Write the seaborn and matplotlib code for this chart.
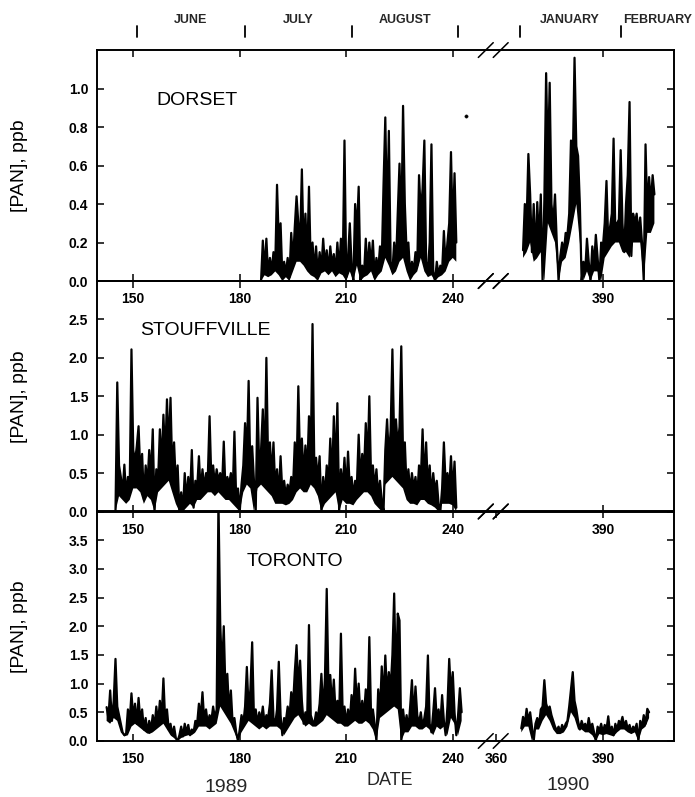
import numpy as np
import pandas as pd
import matplotlib
matplotlib.use('Agg')
import matplotlib.pyplot as plt
import seaborn as sns

# PAN mixing ratios (ppb), every half day,
# plus the lower edge of the dense trace once a day ("floor")
dorset_1989_start = 186.0
dorset_1989 = [0.00, 0.21, 0.05, 0.22, 0.03, 0.12, 0.05, 0.15, 0.08, 0.50,
               0.20, 0.30, 0.02, 0.10, 0.04, 0.12, 0.02, 0.25, 0.10, 0.28,
               0.44, 0.30, 0.20, 0.58, 0.15, 0.35, 0.10, 0.49, 0.08, 0.20,
               0.05, 0.18, 0.03, 0.15, 0.06, 0.22, 0.08, 0.16, 0.05, 0.18,
               0.08, 0.14, 0.04, 0.20, 0.06, 0.22, 0.05, 0.73, 0.02, 0.12,
               0.30, 0.08, 0.00, 0.40, 0.25, 0.49, 0.00, 0.08, 0.03, 0.22,
               0.05, 0.20, 0.08, 0.21, 0.02, 0.12, 0.05, 0.18, 0.10, 0.50,
               0.85, 0.30, 0.78, 0.10, 0.05, 0.20, 0.08, 0.35, 0.61, 0.25,
               0.91, 0.40, 0.15, 0.20, 0.03, 0.10, 0.05, 0.15, 0.08, 0.55,
               0.35, 0.48, 0.73, 0.10, 0.05, 0.20, 0.71, 0.05, 0.00, 0.10,
               0.03, 0.08, 0.05, 0.26, 0.08, 0.20, 0.30, 0.67, 0.25, 0.56,
               0.20]
dorset_1989_floor = [0.00, 0.03, 0.02, 0.03, 0.05, 0.03, 0.00, 0.02, 0.00, 0.05,
                     0.10, 0.10, 0.08, 0.05, 0.03, 0.02, 0.00, 0.04, 0.05, 0.03,
                     0.05, 0.02, 0.04, 0.03, 0.00, 0.05, 0.00, 0.08, 0.00, 0.02,
                     0.03, 0.05, 0.00, 0.03, 0.05, 0.12, 0.08, 0.03, 0.05, 0.10,
                     0.12, 0.05, 0.00, 0.03, 0.05, 0.12, 0.05, 0.02, 0.03, 0.00,
                     0.02, 0.03, 0.05, 0.10, 0.12, 0.10]
dorset_1990_start = 367.5
dorset_1990 = [0.16, 0.40, 0.30, 0.66, 0.45, 0.15, 0.40, 0.12, 0.41, 0.20,
               0.45, 0.00, 0.42, 1.08, 0.60, 1.03, 0.40, 0.30, 0.45, 0.20,
               0.00, 0.13, 0.20, 0.15, 0.25, 0.24, 0.35, 0.73, 0.60, 1.16,
               0.70, 0.65, 0.40, 0.00, 0.10, 0.05, 0.22, 0.10, 0.00, 0.18,
               0.08, 0.24, 0.12, 0.00, 0.20, 0.18, 0.30, 0.52, 0.20, 0.28,
               0.35, 0.74, 0.25, 0.30, 0.32, 0.68, 0.30, 0.15, 0.40, 0.55,
               0.93, 0.13, 0.35, 0.30, 0.35, 0.25, 0.33, 0.20, 0.00, 0.71,
               0.35, 0.54, 0.40, 0.55, 0.45]
dorset_1990_floor = [0.12, 0.15, 0.20, 0.10, 0.12, 0.15, 0.00, 0.30, 0.25, 0.20,
                     0.00, 0.10, 0.12, 0.20, 0.30, 0.40, 0.20, 0.00, 0.05, 0.00,
                     0.05, 0.05, 0.00, 0.12, 0.15, 0.18, 0.20, 0.20, 0.15, 0.15,
                     0.12, 0.20, 0.20, 0.20, 0.00, 0.25, 0.25, 0.30]
dorset_dot_day = [243.7]
dorset_dot_pan = [0.855]

stouffville_1989_start = 145.0
stouffville_1989 = [0.00, 1.68, 0.60, 0.45, 0.25, 0.61, 0.20, 0.45, 0.30, 2.11,
                    0.80, 0.65, 0.85, 1.11, 0.50, 0.75, 0.16, 0.60, 0.35, 0.80,
                    0.45, 1.07, 0.00, 0.55, 0.40, 1.07, 0.60, 1.26, 0.70, 1.46,
                    0.80, 1.48, 0.50, 0.90, 0.35, 0.60, 0.00, 0.25, 0.00, 0.50,
                    0.15, 0.45, 0.20, 0.80, 0.05, 0.40, 0.30, 0.72, 0.25, 0.55,
                    0.30, 0.50, 0.45, 1.24, 0.40, 0.60, 0.35, 0.55, 0.40, 0.50,
                    0.30, 0.91, 0.25, 0.45, 0.35, 0.50, 0.20, 1.04, 0.15, 0.30,
                    0.00, 0.35, 0.60, 1.15, 0.70, 1.70, 0.50, 0.85, 0.40, 0.00,
                    1.48, 0.55, 0.80, 1.33, 0.50, 2.00, 0.60, 0.90, 0.45, 0.90,
                    0.30, 0.55, 0.20, 0.72, 0.25, 0.40, 0.20, 0.35, 0.25, 0.45,
                    0.30, 0.90, 0.50, 1.63, 0.60, 0.95, 0.45, 0.86, 0.50, 1.24,
                    0.70, 2.44, 0.60, 0.70, 0.40, 0.72, 0.00, 0.45, 0.20, 0.60,
                    0.35, 0.95, 0.40, 1.24, 0.50, 1.41, 0.00, 0.55, 0.30, 0.70,
                    0.25, 0.78, 0.30, 0.45, 0.20, 0.40, 0.35, 1.00, 0.40, 0.75,
                    0.50, 1.15, 0.60, 1.50, 0.40, 0.60, 0.30, 0.55, 0.20, 0.40,
                    0.15, 0.00, 0.80, 1.20, 0.70, 1.05, 2.11, 0.90, 1.20, 0.85,
                    1.10, 2.15, 0.70, 0.90, 0.30, 0.55, 0.25, 0.50, 0.30, 0.45,
                    0.20, 0.60, 0.40, 1.07, 0.35, 0.90, 0.30, 0.60, 0.20, 0.50,
                    0.25, 0.40, 0.10, 0.00, 0.30, 0.90, 0.35, 0.50, 0.30, 0.72,
                    0.25, 0.65, 0.05]
stouffville_1989_floor = [0.00, 0.20, 0.15, 0.10, 0.15, 0.30, 0.30, 0.25, 0.10, 0.20,
                          0.15, 0.00, 0.25, 0.30, 0.35, 0.40, 0.25, 0.10, 0.00, 0.00,
                          0.05, 0.10, 0.05, 0.15, 0.15, 0.20, 0.25, 0.25, 0.20, 0.25,
                          0.20, 0.15, 0.15, 0.10, 0.05, 0.00, 0.25, 0.35, 0.30, 0.00,
                          0.30, 0.35, 0.30, 0.25, 0.20, 0.10, 0.10, 0.10, 0.08, 0.10,
                          0.15, 0.25, 0.30, 0.25, 0.25, 0.35, 0.30, 0.20, 0.00, 0.10,
                          0.15, 0.20, 0.25, 0.00, 0.15, 0.10, 0.10, 0.08, 0.15, 0.20,
                          0.25, 0.25, 0.20, 0.10, 0.05, 0.00, 0.35, 0.40, 0.45, 0.40,
                          0.35, 0.30, 0.15, 0.10, 0.10, 0.08, 0.15, 0.15, 0.10, 0.08,
                          0.05, 0.00, 0.10, 0.10, 0.10, 0.08, 0.00]

toronto_1989_start = 142.5
toronto_1989 = [0.59, 0.40, 0.88, 0.35, 0.70, 1.43, 0.60, 0.45, 0.30, 0.15,
                0.10, 0.13, 0.55, 0.35, 0.83, 0.40, 0.65, 0.30, 0.75, 0.35,
                0.55, 0.20, 0.40, 0.15, 0.35, 0.20, 0.45, 0.25, 0.60, 0.30,
                0.70, 0.40, 1.09, 0.35, 0.55, 0.20, 0.30, 0.10, 0.25, 0.05,
                0.00, 0.10, 0.25, 0.08, 0.30, 0.15, 0.28, 0.10, 0.20, 0.15,
                0.35, 0.30, 0.65, 0.40, 0.85, 0.35, 0.55, 0.30, 0.45, 0.35,
                0.60, 0.40, 0.55, 4.20, 2.05, 1.20, 2.00, 0.80, 1.17, 0.50,
                0.88, 0.30, 0.40, 0.15, 0.00, 0.20, 0.45, 0.30, 0.60, 1.29,
                0.55, 0.90, 1.72, 0.40, 0.55, 0.30, 0.50, 0.35, 0.60, 0.30,
                0.45, 0.40, 0.65, 1.23, 0.40, 0.30, 0.55, 1.38, 0.45, 0.10,
                0.40, 0.35, 0.60, 0.40, 0.85, 0.60, 1.20, 1.67, 0.90, 1.40,
                0.70, 0.30, 0.50, 0.40, 2.02, 0.45, 0.35, 0.30, 0.50, 0.40,
                0.65, 1.17, 0.50, 1.10, 2.65, 0.90, 1.15, 0.60, 1.07, 0.50,
                0.70, 0.40, 1.87, 0.45, 0.60, 0.30, 0.55, 0.35, 0.80, 0.50,
                1.26, 0.60, 1.00, 0.40, 0.70, 0.45, 0.90, 0.50, 1.81, 0.40,
                0.55, 0.30, 0.00, 0.90, 0.50, 1.30, 0.70, 1.49, 0.80, 1.20,
                0.90, 1.50, 2.57, 1.00, 2.22, 2.10, 0.00, 0.55, 0.25, 0.45,
                0.20, 0.60, 1.06, 0.40, 0.95, 0.45, 0.30, 0.50, 0.25, 0.40,
                0.60, 1.49, 0.30, 0.15, 0.50, 0.92, 0.35, 0.55, 0.30, 0.80,
                0.35, 0.10, 0.60, 1.43, 0.80, 1.20, 0.50, 0.10, 0.45, 0.92,
                0.50]
toronto_1989_floor = [0.35, 0.30, 0.40, 0.35, 0.15, 0.08, 0.10, 0.25, 0.30, 0.25,
                      0.20, 0.15, 0.12, 0.15, 0.20, 0.25, 0.30, 0.20, 0.10, 0.05,
                      0.00, 0.05, 0.08, 0.10, 0.10, 0.15, 0.25, 0.25, 0.25, 0.20,
                      0.25, 0.30, 0.60, 0.50, 0.40, 0.30, 0.15, 0.00, 0.15, 0.25,
                      0.35, 0.30, 0.25, 0.20, 0.25, 0.20, 0.25, 0.25, 0.25, 0.20,
                      0.10, 0.20, 0.30, 0.40, 0.45, 0.35, 0.25, 0.30, 0.25, 0.25,
                      0.30, 0.35, 0.45, 0.40, 0.35, 0.30, 0.30, 0.25, 0.25, 0.30,
                      0.35, 0.30, 0.30, 0.35, 0.30, 0.20, 0.00, 0.40, 0.45, 0.50,
                      0.55, 0.60, 0.55, 0.00, 0.15, 0.15, 0.25, 0.25, 0.20, 0.20,
                      0.25, 0.20, 0.10, 0.25, 0.20, 0.25, 0.10, 0.40, 0.30, 0.10,
                      0.35]
toronto_1990_start = 367.0
toronto_1990 = [0.22, 0.42, 0.30, 0.56, 0.35, 0.50, 0.25, 0.00, 0.30, 0.40,
                0.28, 0.55, 0.60, 1.06, 0.65, 0.55, 0.60, 0.45, 0.35, 0.25,
                0.18, 0.25, 0.15, 0.28, 0.20, 0.30, 0.35, 0.60, 0.90, 1.20,
                0.70, 0.55, 0.35, 0.20, 0.35, 0.25, 0.30, 0.20, 0.40, 0.22,
                0.30, 0.15, 0.00, 0.25, 0.18, 0.30, 0.15, 0.28, 0.20, 0.43,
                0.15, 0.25, 0.10, 0.30, 0.20, 0.35, 0.30, 0.42, 0.25, 0.35,
                0.20, 0.28, 0.15, 0.25, 0.20, 0.30, 0.00, 0.35, 0.25, 0.45,
                0.30, 0.56, 0.50]
toronto_1990_floor = [0.15, 0.25, 0.25, 0.00, 0.20, 0.20, 0.35, 0.45, 0.35, 0.20,
                      0.12, 0.12, 0.15, 0.25, 0.50, 0.40, 0.20, 0.20, 0.15, 0.15,
                      0.10, 0.00, 0.12, 0.10, 0.12, 0.10, 0.08, 0.15, 0.20, 0.20,
                      0.15, 0.12, 0.15, 0.00, 0.20, 0.25, 0.40]

month_names = ['JUNE', 'JULY', 'AUGUST', '', 'JANUARY', 'FEBRUARY']
month_starts = [151.0, 181.5, 211.5, 241.5, 366.5, 395.0]
day_ticks = [150, 180, 210, 240, 390]
day_ticks_bottom = [150, 180, 210, 240, 360, 390]

GAP = 107.7  # days cut out of the axis between summer 1989 and winter 1990


def squeeze(day):
    day = np.asarray(day, dtype=float)
    return np.where(day > 300, day - GAP, day)


def series(start, vals):
    days = start + 0.5 * np.arange(len(vals))
    return pd.DataFrame({'day': squeeze(days), 'pan': vals})


def draw_trace(ax, start, vals, floor):
    df = series(start, vals)
    fx = squeeze(start + np.arange(len(floor)))
    # dense hourly record: black band between the daily floor and the trace
    ax.fill(np.concatenate([df['day'].values, fx[::-1]]),
            np.concatenate([df['pan'].values, np.asarray(floor)[::-1]]),
            color='black', lw=0)
    sns.lineplot(data=df, x='day', y='pan', ax=ax, color='black', lw=1.6,
                 estimator=None, sort=False)


sns.set_theme(style='ticks')
plt.rcParams['font.family'] = ['Liberation Sans', 'DejaVu Sans']

fig = plt.figure(figsize=(6.95, 7.97), dpi=100)

panels = [
    dict(name='DORSET', rect=[0.1391, 0.6474, 0.8311, 0.2898], ymax=1.2,
         yticks=[0.0, 0.2, 0.4, 0.6, 0.8, 1.0], name_xy=(0.104, 0.78),
         segs=[(dorset_1989_start, dorset_1989, dorset_1989_floor),
               (dorset_1990_start, dorset_1990, dorset_1990_floor)]),
    dict(name='STOUFFVILLE', rect=[0.1391, 0.3582, 0.8311, 0.2892], ymax=3.0,
         yticks=[0.0, 0.5, 1.0, 1.5, 2.0, 2.5], name_xy=(0.075, 0.787),
         segs=[(stouffville_1989_start, stouffville_1989, stouffville_1989_floor)]),
    dict(name='TORONTO', rect=[0.1391, 0.0703, 0.8311, 0.2880], ymax=4.0,
         yticks=[0.0, 0.5, 1.0, 1.5, 2.0, 2.5, 3.0, 3.5], name_xy=(0.26, 0.78),
         segs=[(toronto_1989_start, toronto_1989, toronto_1989_floor),
               (toronto_1990_start, toronto_1990, toronto_1990_floor)]),
]

axes = []
for i, p in enumerate(panels):
    ax = fig.add_axes(p['rect'])
    ax.patch.set_visible(False)
    for start, vals, floor in p['segs']:
        draw_trace(ax, start, vals, floor)
    ax.set_xlim(139.7, 302.4)
    ax.set_ylim(0, p['ymax'])
    ax.set_yticks(p['yticks'])
    ax.set_yticklabels([f'{v:.1f}' for v in p['yticks']])
    ticks = day_ticks_bottom if i == 2 else day_ticks
    ax.set_xticks(squeeze(ticks))
    ax.set_xticklabels([str(t) for t in ticks])
    ax.tick_params(direction='in', top=True, right=True, length=5, width=1.1,
                   labelsize=10, colors='black')
    ax.tick_params(axis='x', pad=8)
    ax.tick_params(axis='y', pad=6)
    for lab in ax.get_xticklabels() + ax.get_yticklabels():
        lab.set_fontweight('bold')
    for sp in ax.spines.values():
        sp.set_linewidth(1.4)
        sp.set_color('black')
    ax.set_xlabel('')
    ax.set_ylabel('[PAN], ppb', fontsize=14, color='black')
    ax.yaxis.set_label_coords(-0.119, 0.5)
    ax.text(p['name_xy'][0], p['name_xy'][1], p['name'], transform=ax.transAxes,
            fontsize=14, ha='left', va='center', color='black')
    # broken-axis marks
    tr = ax.get_xaxis_transform()
    for xb in (249.3, 253.5):
        for yb in (0.0, 1.0):
            ax.plot([xb - 2.1, xb + 2.1], [yb - 0.032, yb + 0.032], color='black',
                    lw=1.1, transform=tr, clip_on=False)
    axes.append(ax)

sns.scatterplot(x=dorset_dot_day, y=dorset_dot_pan, ax=axes[0], color='black',
                s=6, edgecolor='black')

# month markers above the top panel
top = axes[0]
tr = top.get_xaxis_transform()
ms = squeeze(month_starts)
for k, x in enumerate(ms):
    top.plot([x, x], [1.056, 1.104], color='black', lw=1.3, transform=tr, clip_on=False)
    name = month_names[k]
    if not name:
        continue
    if k + 1 < len(ms):
        top.text((x + ms[k + 1]) / 2, 1.13, name, transform=tr, ha='center', va='center',
                 fontsize=9, fontweight='bold')
    else:
        top.text(x + 0.8, 1.13, name, transform=tr, ha='left', va='center',
                 fontsize=9, fontweight='bold')

fig.text(0.325, 0.0113, '1989', fontsize=14, ha='center', va='center')
fig.text(0.561, 0.0213, 'DATE', fontsize=13, ha='center', va='center')
fig.text(0.817, 0.015, '1990', fontsize=14, ha='center', va='center')

fig.savefig('out.png', dpi=100, facecolor='white')
